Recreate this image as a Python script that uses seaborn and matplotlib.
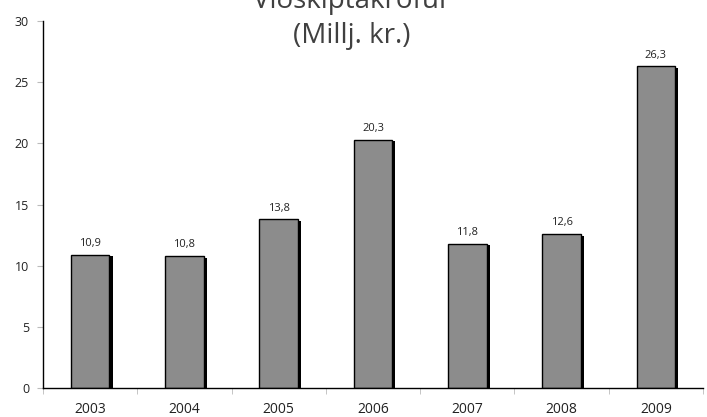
import matplotlib
matplotlib.use("Agg")
import matplotlib.pyplot as plt
import matplotlib.patheffects as pe
import seaborn as sns
import pandas as pd

years = ["2003", "2004", "2005", "2006", "2007", "2008", "2009"]
values = [10.9, 10.8, 13.8, 20.3, 11.8, 12.6, 26.3]
value_labels = ["10,9", "10,8", "13,8", "20,3", "11,8", "12,6", "26,3"]
title_lines = ["Viðskiptakröfur", "(Millj. kr.)"]

df = pd.DataFrame({"year": years, "value": values})

sns.set_style("white")
plt.rcParams["font.family"] = ["Open Sans", "DejaVu Sans"]

fig = plt.figure(figsize=(7.07, 4.17), dpi=100)
ax = fig.add_axes([43 / 707, 1 - 388 / 417, 660 / 707, 367 / 417])

sns.barplot(data=df, x="year", y="value", color="#8c8c8c", saturation=1,
            width=0.41, edgecolor="black", linewidth=1.0, ax=ax)

for bar in ax.patches:
    bar.set_path_effects([
        pe.SimplePatchShadow(offset=(2.2, -1.2), shadow_rgbFace="black", alpha=1),
        pe.Normal(),
    ])

for i, (v, lab) in enumerate(zip(values, value_labels)):
    ax.annotate(lab, (i, v), xytext=(0, 4), textcoords="offset points",
                ha="center", va="bottom", fontsize=8, color="#222222")

ax.set_ylim(0, 30)
ax.set_yticks(range(0, 31, 5))
ax.set_xlim(-0.5, 6.5)
ax.set_xlabel("")
ax.set_ylabel("")

# ticks on category boundaries
ax.set_xticks([i - 0.5 for i in range(8)], minor=True)
ax.tick_params(axis="x", which="major", length=0, pad=10, labelsize=10, labelcolor="#222222")
ax.tick_params(axis="x", which="minor", length=4, color="#bbbbbb", direction="out", bottom=True)
ax.tick_params(axis="y", length=4, color="#bbbbbb", direction="out", left=True,
               labelsize=9, labelcolor="#222222", pad=6)

sns.despine(ax=ax, top=True, right=True)
for s in ["left", "bottom"]:
    ax.spines[s].set_color("black")
    ax.spines[s].set_linewidth(1.0)

# the first title line sits partly above the figure edge, as in the original
fig.text(352 / 707, 1 - 8 / 417, title_lines[0], ha="center", va="baseline",
         fontsize=20, color="#404040")
fig.text(352 / 707, 1 - 43 / 417, title_lines[1], ha="center", va="baseline",
         fontsize=20, color="#404040")

fig.savefig("out.png", dpi=100)
